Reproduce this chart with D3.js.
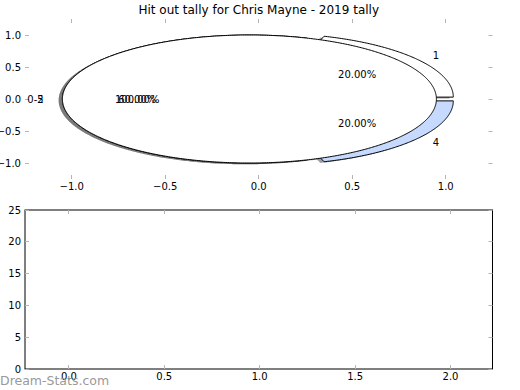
<!DOCTYPE html>
<html>
<head>
<meta charset="utf-8">
<script src="https://cdn.jsdelivr.net/npm/d3@7"></script>
<style>
body { margin: 0; background: #fff; }
text { font-family: "DejaVu Sans", sans-serif; }
</style>
</head>
<body>
<div id="chart"></div>
<script>
var chartTitle = "Hit out tally for Chris Mayne - 2019 tally";

// first pie (three wedges) and the second pie drawn on top of it
var tallyLabels = ["1", "0-5", "4"];
var tallyValues = [1, 3, 1];
var tallyColours = ["#ffffff", "#ffffff", "#c6daff"];
var extraLabels = ["2"];
var extraValues = [1];
var extraColours = ["#ffffff"];

var pieTicks = [-1.0, -0.5, 0.0, 0.5, 1.0];
var barXTicks = [0.0, 0.5, 1.0, 1.5, 2.0];
var barYTicks = [0, 5, 10, 15, 20, 25];

var svgDim = { width: 520, height: 390 };
var topBox = { left: 25, right: 492.5, top: 19, bottom: 179 };
var botBox = { left: 25, right: 492.5, top: 210, bottom: 369 };
var explodeBy = 0.05;
var tickColour = "#b4b4b4";

var svg = d3.select("#chart").append("svg")
    .attr("width", svgDim.width)
    .attr("height", svgDim.height);

var fmt1 = d3.format(".1f");
var fmt0 = d3.format("d");

var px = d3.scaleLinear().domain([-1.25, 1.25]).range([topBox.left, topBox.right]);
var py = d3.scaleLinear().domain([-1.25, 1.25]).range([topBox.bottom, topBox.top]);
var bx = d3.scaleLinear().domain([-0.23, 2.22]).range([botBox.left, botBox.right]);
var by = d3.scaleLinear().domain([0, 25]).range([botBox.bottom, botBox.top]);

function crisp(v) { return Math.round(v - 0.5) + 0.5; }

function drawTicks(box, xs, ys, xt, yt, xfmt, yfmt) {
    var g = svg.append("g").attr("stroke", tickColour).attr("stroke-width", 1);
    xt.forEach(function (t) {
        var x = crisp(xs(t));
        g.append("line").attr("x1", x).attr("x2", x).attr("y1", box.bottom).attr("y2", box.bottom - 4);
        g.append("line").attr("x1", x).attr("x2", x).attr("y1", box.top).attr("y2", box.top + 4);
        svg.append("text").attr("x", xs(t)).attr("y", box.bottom + 11)
            .attr("text-anchor", "middle").attr("font-size", 10).text(xfmt(t));
    });
    yt.forEach(function (t) {
        var y = crisp(ys(t));
        g.append("line").attr("x1", box.left).attr("x2", box.left + 4).attr("y1", y).attr("y2", y);
        g.append("line").attr("x1", box.right).attr("x2", box.right - 4).attr("y1", y).attr("y2", y);
        svg.append("text").attr("x", box.left - 4).attr("y", ys(t) + 3.6)
            .attr("text-anchor", "end").attr("font-size", 10).text(yfmt(t));
    });
}

// ---- top axes: pies ----
drawTicks(topBox, px, py, pieTicks, pieTicks, fmt1, fmt1);

svg.append("text")
    .attr("x", (topBox.left + topBox.right) / 2)
    .attr("y", 14)
    .attr("text-anchor", "middle")
    .attr("font-size", 12)
    .text(chartTitle);

var pieGen = d3.pie().sort(null).value(function (d) { return d; });
var line = d3.line().x(function (d) { return px(d[0]); }).y(function (d) { return py(d[1]); });

function wedgePoints(cx, cy, a0, a1) {
    var n = Math.max(8, Math.ceil((a1 - a0) / 0.01));
    var pts = [[cx, cy]];
    d3.range(n + 1).forEach(function (i) {
        var a = a0 + (a1 - a0) * i / n;
        pts.push([cx + Math.cos(a), cy + Math.sin(a)]);
    });
    if (a1 - a0 >= 2 * Math.PI - 1e-9) pts.shift();
    return pts;
}

function buildWedges(values, labels, colours) {
    var total = d3.sum(values);
    return pieGen(values).map(function (p, i) {
        var mid = (p.startAngle + p.endAngle) / 2;
        return {
            a0: p.startAngle, a1: p.endAngle, mid: mid,
            cx: explodeBy * Math.cos(mid), cy: explodeBy * Math.sin(mid),
            label: labels[i], colour: colours[i],
            pct: (100 * values[i] / total).toFixed(2) + "%"
        };
    });
}

var wedges = buildWedges(tallyValues, tallyLabels, tallyColours)
    .concat(buildWedges(extraValues, extraLabels, extraColours));

// shadows below every wedge
svg.append("g").selectAll("path").data(wedges).enter().append("path")
    .attr("d", function (w) {
        return line(wedgePoints(w.cx - 0.02, w.cy - 0.02, w.a0, w.a1)) + "Z";
    })
    .attr("fill", function (w) {
        var c = d3.rgb(w.colour);
        return d3.rgb(c.r * 0.3, c.g * 0.3, c.b * 0.3);
    })
    .attr("fill-opacity", 0.5)
    .attr("stroke", "none");

svg.append("g").selectAll("path").data(wedges).enter().append("path")
    .attr("d", function (w) { return line(wedgePoints(w.cx, w.cy, w.a0, w.a1)) + "Z"; })
    .attr("fill", function (w) { return w.colour; })
    .attr("stroke", "#000")
    .attr("stroke-width", 1);

var labelG = svg.append("g").attr("font-size", 10);
wedges.forEach(function (w) {
    var lx = w.cx + 1.1 * Math.cos(w.mid);
    var ly = w.cy + 1.1 * Math.sin(w.mid);
    labelG.append("text")
        .attr("x", px(lx)).attr("y", py(ly) + 3.6)
        .attr("text-anchor", lx < 0 ? "end" : "start")
        .text(w.label);
    labelG.append("text")
        .attr("x", px(w.cx + 0.6 * Math.cos(w.mid)))
        .attr("y", py(w.cy + 0.6 * Math.sin(w.mid)) + 3.6)
        .attr("text-anchor", "middle")
        .text(w.pct);
});

// ---- bottom axes: empty frame ----
svg.append("rect")
    .attr("x", botBox.left).attr("y", botBox.top)
    .attr("width", botBox.right - botBox.left)
    .attr("height", botBox.bottom - botBox.top)
    .attr("fill", "none").attr("stroke", "#000").attr("stroke-width", 1);

drawTicks(botBox, bx, by, barXTicks, barYTicks, fmt1, fmt0);

svg.append("text")
    .attr("x", 0).attr("y", 385)
    .attr("font-family", "'Liberation Sans', Arial, sans-serif")
    .attr("font-size", 12.5)
    .attr("fill", "#999999")
    .text("Dream-Stats.com");
</script>
</body>
</html>
